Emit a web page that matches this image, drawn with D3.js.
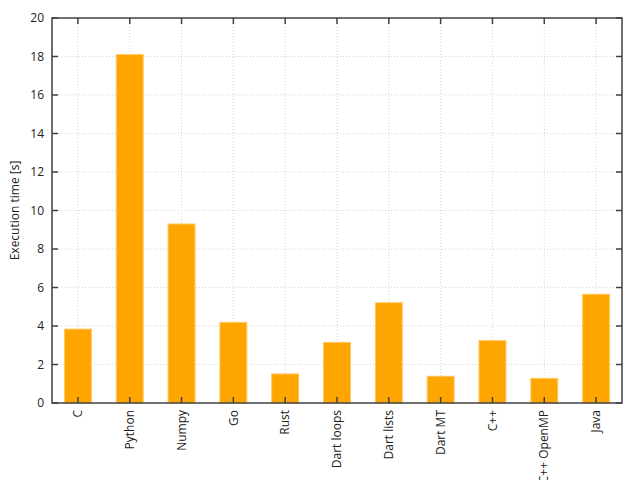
<!DOCTYPE html>
<html>
<head>
<meta charset="utf-8">
<script src="https://cdn.jsdelivr.net/npm/d3@7"></script>
<style>
  body { margin: 0; background: #fff; }
  text { font-family: "Open Sans", sans-serif; fill: #222; }
</style>
</head>
<body>
<script>
// data
var languages = ["C", "Python", "Numpy", "Go", "Rust", "Dart loops", "Dart lists", "Dart MT", "C++", "C++ OpenMP", "Java"];
var times = [3.84, 18.1, 9.3, 4.19, 1.51, 3.15, 5.21, 1.39, 3.24, 1.28, 5.65];
var yTicks = [0, 2, 4, 6, 8, 10, 12, 14, 16, 18, 20];

var w = 640, h = 480;
var plotLeft = 52, plotRight = 622, plotTop = 18, plotBottom = 403;

var svg = d3.select("body").append("svg")
  .attr("width", w)
  .attr("height", h);

var x = d3.scaleBand().domain(languages).range([plotLeft, plotRight]).paddingInner(0).paddingOuter(0);
var y = d3.scaleLinear().domain([0, 20]).range([plotBottom, plotTop]);

var barW = x.bandwidth() * 0.52;

function cx(d) { return x(d) + x.bandwidth() / 2; }

// grid
svg.append("g").selectAll("line").data(yTicks.slice(1, -1)).enter().append("line")
  .attr("x1", plotLeft).attr("x2", plotRight)
  .attr("y1", function(d) { return y(d); }).attr("y2", function(d) { return y(d); })
  .attr("stroke", "#d4d4d4").attr("stroke-width", 1).attr("stroke-dasharray", "1,2");

svg.append("g").selectAll("line").data(languages).enter().append("line")
  .attr("x1", cx).attr("x2", cx)
  .attr("y1", plotTop).attr("y2", plotBottom)
  .attr("stroke", "#d4d4d4").attr("stroke-width", 1).attr("stroke-dasharray", "1,2");

// bars
svg.append("g").selectAll("rect").data(languages).enter().append("rect")
  .attr("x", function(d) { return cx(d) - barW / 2; })
  .attr("y", function(d, i) { return y(times[i]); })
  .attr("width", barW)
  .attr("height", function(d, i) { return plotBottom - y(times[i]); })
  .attr("fill", "#ffa500")
  .attr("stroke", "#ffc966")
  .attr("stroke-width", 1);

// y ticks (left and mirrored right)
var yt = svg.append("g");
yt.selectAll(".tl").data(yTicks).enter().append("line")
  .attr("x1", plotLeft).attr("x2", plotLeft + 6)
  .attr("y1", function(d) { return y(d); }).attr("y2", function(d) { return y(d); })
  .attr("stroke", "#404040").attr("stroke-width", 1.5);
yt.selectAll(".tr").data(yTicks).enter().append("line")
  .attr("x1", plotRight).attr("x2", plotRight - 6)
  .attr("y1", function(d) { return y(d); }).attr("y2", function(d) { return y(d); })
  .attr("stroke", "#404040").attr("stroke-width", 1.5);
yt.selectAll("text").data(yTicks).enter().append("text")
  .attr("x", plotLeft - 8)
  .attr("y", function(d) { return y(d); })
  .attr("dy", "0.35em")
  .attr("text-anchor", "end")
  .attr("font-size", "12px")
  .text(function(d) { return d; });

// x ticks (bottom and mirrored top)
var xt = svg.append("g");
xt.selectAll(".tb").data(languages).enter().append("line")
  .attr("x1", cx).attr("x2", cx)
  .attr("y1", plotBottom).attr("y2", plotBottom - 6)
  .attr("stroke", "#404040").attr("stroke-width", 1.5);
xt.selectAll(".tt").data(languages).enter().append("line")
  .attr("x1", cx).attr("x2", cx)
  .attr("y1", plotTop).attr("y2", plotTop + 6)
  .attr("stroke", "#404040").attr("stroke-width", 1.5);
xt.selectAll("text").data(languages).enter().append("text")
  .attr("transform", function(d) { return "translate(" + cx(d) + "," + (plotBottom + 7) + ") rotate(-90)"; })
  .attr("dy", "0.35em")
  .attr("text-anchor", "end")
  .attr("font-size", "12px")
  .text(function(d) { return d; });

// frame
svg.append("rect")
  .attr("x", plotLeft).attr("y", plotTop)
  .attr("width", plotRight - plotLeft).attr("height", plotBottom - plotTop)
  .attr("fill", "none").attr("stroke", "#404040").attr("stroke-width", 1.5);

// y label
svg.append("text")
  .attr("transform", "translate(15," + ((plotTop + plotBottom) / 2) + ") rotate(-90)")
  .attr("dy", "0.35em")
  .attr("text-anchor", "middle")
  .attr("font-size", "12px")
  .text("Execution time [s]");
</script>
</body>
</html>
